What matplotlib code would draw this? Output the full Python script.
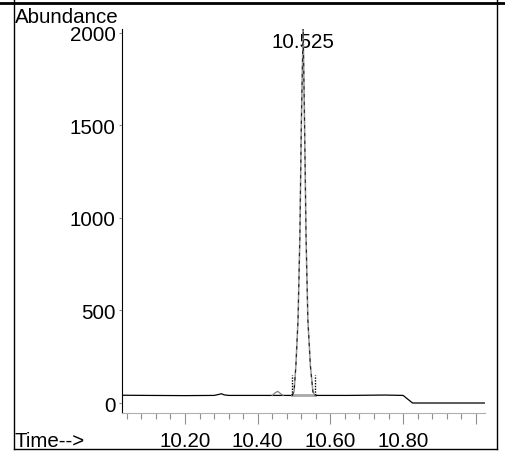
import matplotlib
matplotlib.use("Agg")
import matplotlib.pyplot as plt
from matplotlib.ticker import MultipleLocator, FixedLocator
from matplotlib.lines import Line2D

plt.rcParams['font.family'] = ['Liberation Sans', 'DejaVu Sans']

# ---- data ----
trace_time = [10.030, 10.100, 10.200, 10.280, 10.292, 10.300, 10.308, 10.320,
              10.400, 10.440, 10.494, 10.500, 10.505, 10.511, 10.516, 10.520,
              10.525, 10.529, 10.533, 10.538, 10.545, 10.552, 10.558, 10.650,
              10.750, 10.800, 10.826, 11.025]
trace_abund = [42, 41, 40, 41, 46, 50, 44, 41,
               41, 41, 41, 60, 200, 450, 900, 1500,
               2030, 1500, 900, 450, 200, 60, 41, 41,
               43, 41, 0, 0]

bump_time = [10.440, 10.448, 10.455, 10.462, 10.470]
bump_abund = [41, 55, 63, 52, 41]

integ_start, integ_end = 10.494, 10.558
integ_base = 41
marker_height = 150

peak_label = "10.525"
peak_rt = 10.525

xticks_major = [10.20, 10.40, 10.60, 10.80, 11.00]
xtick_labels = ["10.20", "10.40", "10.60", "10.80", ""]
yticks = [0, 500, 1000, 1500, 2000]
ytick_labels = ["0", "500", "1000", "1500", "2000"]

FS = 14.8

# ---- figure ----
W, H = 506, 452
fig = plt.figure(figsize=(W / 100, H / 100), dpi=100)

def px(x0, y0, x1, y1):
    return [x0 / W, 1 - y1 / H, (x1 - x0) / W, (y1 - y0) / H]

ax = fig.add_axes(px(122, 30, 485, 414))
ax.set_xlim(10.0267, 11.0253)
ax.set_ylim(-54, 2021)

pk_idx = [i for i, t in enumerate(trace_time) if integ_start <= t <= integ_end]
pk_t = [trace_time[i] for i in pk_idx]
pk_a = [trace_abund[i] for i in pk_idx]
pre = [i for i, t in enumerate(trace_time) if t <= integ_start]
post = [i for i, t in enumerate(trace_time) if t >= integ_end]

# non-peak trace
ax.plot([trace_time[i] for i in pre], [trace_abund[i] for i in pre],
        color='black', lw=0.9, zorder=3)
ax.plot([trace_time[i] for i in post], [trace_abund[i] for i in post],
        color='black', lw=0.9, zorder=3)
# peak drawn as grey outline with dark dashes
ax.plot(pk_t, pk_a, color='#9a9a9a', lw=1.1, zorder=3)
ax.plot(pk_t, pk_a, color='#202020', lw=0.8, ls=(0, (3, 4)), zorder=4)
ax.plot(bump_time, bump_abund, color='#808080', lw=0.9, zorder=3)

# integration baseline and markers
ax.plot([integ_start, integ_end], [integ_base, integ_base], color='#a8a8a8', lw=2, zorder=2)
for t in (integ_start, integ_end):
    ax.plot([t, t], [integ_base, marker_height], color='black', lw=1.0,
            ls=(0, (1, 1)), zorder=4)

ax.text(peak_rt, 1955, peak_label, ha='center', va='center', fontsize=FS,
        zorder=1)

# axes styling
for s in ('top', 'right'):
    ax.spines[s].set_visible(False)
ax.spines['left'].set_color('black')
ax.spines['left'].set_linewidth(0.8)
ax.spines['bottom'].set_color('#b0b0b0')
ax.spines['bottom'].set_linewidth(0.8)

ax.xaxis.set_major_locator(FixedLocator(xticks_major))
ax.set_xticklabels(xtick_labels)
ax.xaxis.set_minor_locator(MultipleLocator(0.04))
ax.set_yticks(yticks)
ax.set_yticklabels(ytick_labels)

ax.tick_params(axis='x', which='major', length=8, width=0.8, color='#909090',
               pad=5, labelsize=FS)
ax.tick_params(axis='x', which='minor', length=4.5, width=0.8, color='#909090')
ax.tick_params(axis='y', which='major', length=2.5, width=0.8, color='#909090',
               pad=2, labelsize=FS)

# labels
fig.text(15 / W, 1 - 23 / H, "Abundance", fontsize=FS, ha='left', va='baseline')
fig.text(15 / W, 1 - 447 / H, "Time-->", fontsize=FS, ha='left', va='baseline')

# outer frame
fig.add_artist(Line2D([0, 1], [1 - 4 / H, 1 - 4 / H], color='black', lw=2.0,
                      transform=fig.transFigure))
fig.add_artist(Line2D([14 / W, 14 / W], [1 - 450 / H, 1], color='black', lw=1.0,
                      transform=fig.transFigure))
fig.add_artist(Line2D([497 / W, 497 / W], [1 - 450 / H, 1], color='black', lw=1.0,
                      transform=fig.transFigure))
fig.add_artist(Line2D([14 / W, 497 / W], [1 - 450 / H, 1 - 450 / H], color='black',
                      lw=1.0, transform=fig.transFigure))

fig.savefig("out.png", dpi=100)
